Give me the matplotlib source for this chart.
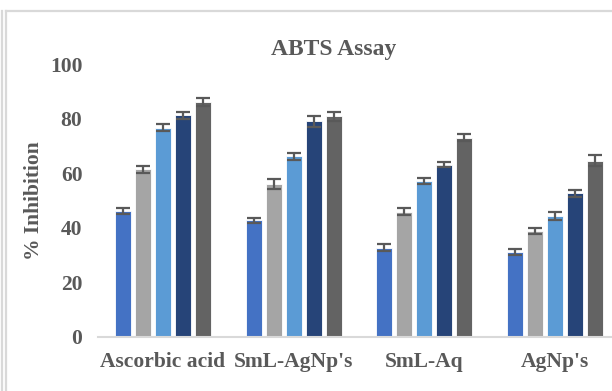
import matplotlib
matplotlib.use("Agg")
from matplotlib import pyplot as plt
from matplotlib.lines import Line2D
import numpy as np

matplotlib.rcParams.update({
    'font.family': 'Liberation Serif',
    'font.weight': 'bold',
    'axes.labelweight': 'bold',
})

categories = ['Ascorbic acid', "SmL-AgNp's", 'SmL-Aq', "AgNp's"]

# one list per series (5 bars in each group)
s1 = [46.0, 42.7, 32.7, 31.0]
s2 = [61.4, 56.0, 45.9, 38.9]
s3 = [76.7, 66.2, 57.1, 44.4]
s4 = [81.3, 79.0, 63.1, 52.7]
s5 = [86.0, 80.8, 73.0, 64.5]

e1 = [1.1, 1.0, 1.2, 1.1]
e2 = [1.2, 1.8, 1.2, 1.2]
e3 = [1.4, 1.3, 1.0, 1.5]
e4 = [1.3, 1.9, 1.0, 1.3]
e5 = [1.5, 1.7, 1.2, 2.0]

series = [s1, s2, s3, s4, s5]
errors = [e1, e2, e3, e4, e5]
colors = ['#4472C4', '#A5A5A5', '#5B9BD5', '#264478', '#636363']

yticks = [0, 20, 40, 60, 80, 100]

W, H = 612, 391
fig = plt.figure(figsize=(W / 100, H / 100), dpi=100)

# plot area in pixels (right side runs past the image edge, as in the crop)
left_px, right_px = 97.7, 620.5
top_px, bottom_px = 64, 337
ax = fig.add_axes([left_px / W, 1 - bottom_px / H,
                   (right_px - left_px) / W, (bottom_px - top_px) / H])

x = np.arange(len(categories))
bw = 0.1224
step = 0.153
for i, (vals, errs, c) in enumerate(zip(series, errors, colors)):
    ax.bar(x + (i - 2) * step, vals, width=bw, color=c, edgecolor='white',
           linewidth=0.6, yerr=errs, capsize=4.8,
           error_kw=dict(ecolor='#595959', elinewidth=1.6, capthick=1.6),
           zorder=2)

ax.set_xlim(-0.5, 3.5)
ax.set_ylim(0, 100)
ax.set_yticks(yticks)
ax.set_xticks(x)
ax.set_xticklabels(categories)
ax.tick_params(axis='both', length=0, labelsize=15.5, colors='#595959')
ax.tick_params(axis='y', pad=11)
ax.tick_params(axis='x', pad=11)
for s in ['top', 'right', 'left']:
    ax.spines[s].set_visible(False)
ax.spines['bottom'].set_color('#D9D9D9')
ax.spines['bottom'].set_linewidth(1.5)
ax.set_ylabel('% Inhibition', fontsize=15.5, color='#595959',
              fontweight='bold', labelpad=4)

fig.text(334 / W, 1 - 50 / H, 'ABTS Assay', ha='center', va='center',
         fontsize=17, color='#595959', fontweight='bold')

# chart border and page lines
gray = '#D9D9D9'
fig.add_artist(Line2D([6 / W, 6 / W], [0, 1 - 11 / H], color=gray, lw=1.6))
fig.add_artist(Line2D([6 / W, 1], [1 - 11 / H, 1 - 11 / H], color=gray, lw=1.6))
fig.add_artist(Line2D([2 / W, 2 / W], [0, 1 - 11 / H], color=gray, lw=1.6))

plt.savefig('out.png', dpi=100)
